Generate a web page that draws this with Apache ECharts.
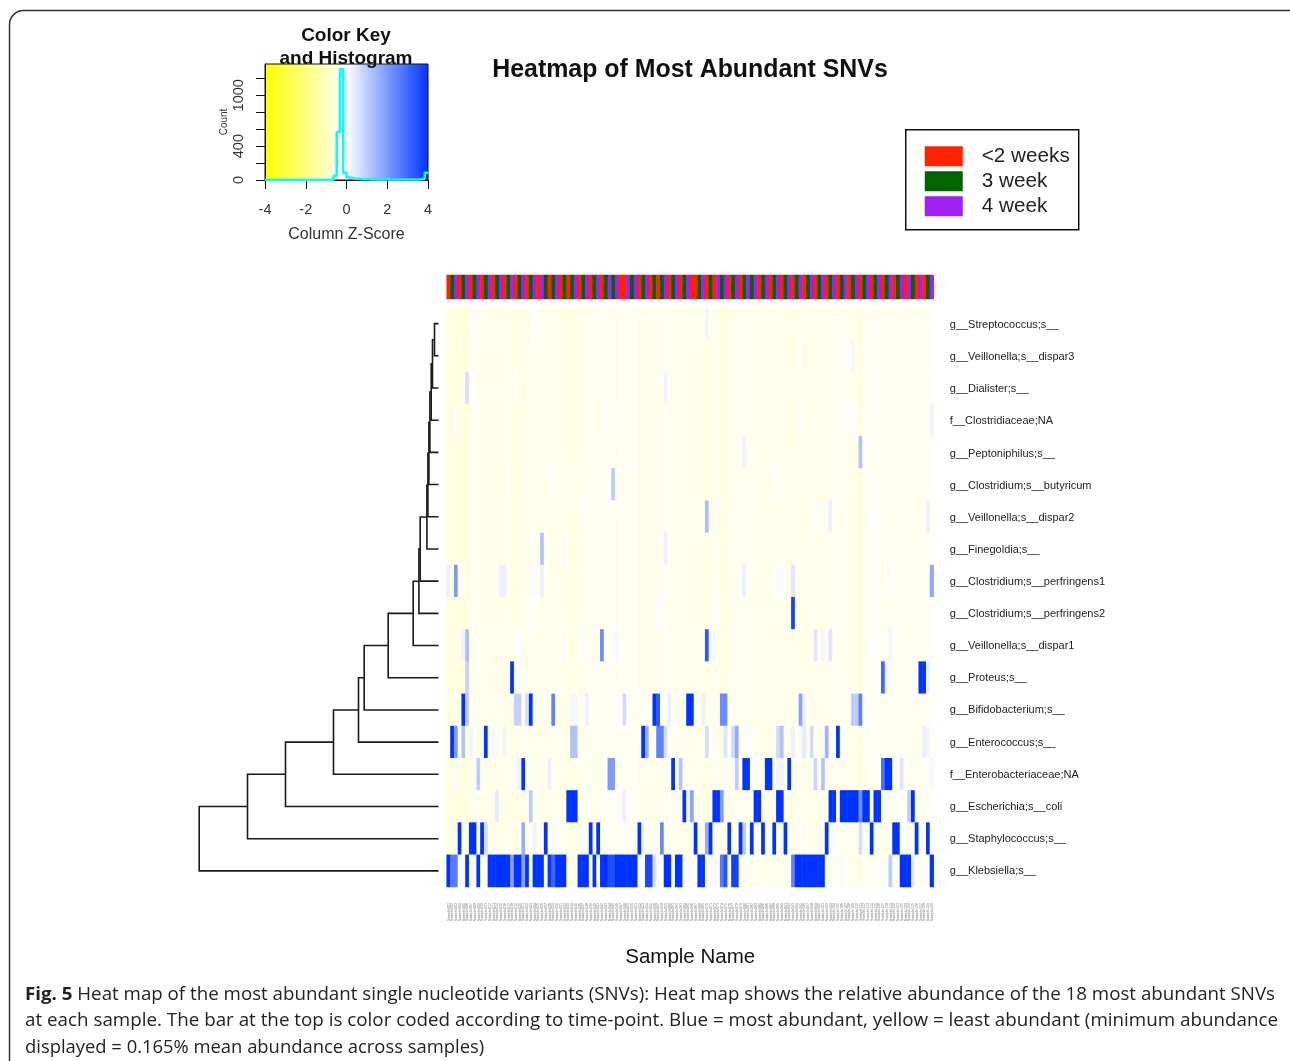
<!DOCTYPE html>
<html><head><meta charset="utf-8">
<style>html,body{margin:0;padding:0;background:#fff}#c{width:1290px;height:1061px}</style>
<script src="https://cdn.jsdelivr.net/npm/echarts@6/dist/echarts.min.js"></script>
</head><body><div id="c"></div>
<script>
const rowNames = ['g__Streptococcus;s__','g__Veillonella;s__dispar3','g__Dialister;s__','f__Clostridiaceae;NA','g__Peptoniphilus;s__','g__Clostridium;s__butyricum','g__Veillonella;s__dispar2','g__Finegoldia;s__','g__Clostridium;s__perfringens1','g__Clostridium;s__perfringens2','g__Veillonella;s__dispar1','g__Proteus;s__','g__Bifidobacterium;s__','g__Enterococcus;s__','f__Enterobacteriaceae;NA','g__Escherichia;s__coli','g__Staphylococcus;s__','g__Klebsiella;s__'];
// column background z-scores (most samples sit slightly below zero)
const columnBase = [-.45,-.5,-.4,-.55,-.5,-.5,-.25,-.2,-.25,-.3,
 -.3,-.25,-.35,-.3,-.4,-.35,-.3,-.4,-.4,-.35,
 -.35,-.3,-.25,-.2,-.3,-.35,-.3,-.3,-.25,-.3,
 -.3,-.35,-.4,-.4,-.35,-.3,-.3,-.25,-.25,-.25,
 -.3,-.25,-.2,-.2,-.25,-.25,-.2,-.2,-.2,-.2,
 -.2,-.25,-.25,-.2,-.25,-.3,-.3,-.25,-.2,-.25,
 -.25,-.3,-.3,-.3,-.3,-.25,-.25,-.3,-.3,-.45,
 -.25,-.25,-.25,-.45,-.45,-.3,-.3,-.25,-.25,-.25,
 -.25,-.25,-.25,-.3,-.3,-.3,-.3,-.25,-.3,-.35,
 -.3,-.3,-.45,-.3,-.3,-.35,-.3,-.3,-.3,-.35,
 -.35,-.35,-.25,-.25,-.25,-.25,-.25,-.25,-.3,-.3,
 -.5,-.2,-.15,-.15,-.2,-.2,-.25,-.2,-.25,-.2,
 -.2,-.25,-.2,-.25,-.25,-.3,-.25,-.2,-.2,-.2];
// [first column, last column, z-score]
const row00 = [[7,7,.05],[24,24,.05],[69,69,.15]];
const row01 = [[94,94,.02],[106,106,.05],[108,108,.15]];
const row02 = [[5,5,.6],[18,18,.02],[58,58,.2]];
const row03 = [[2,2,.03],[42,42,.03],[45,45,.02],[94,94,.05],[106,106,.05],[108,108,.05],[129,129,.2]];
const row04 = [[79,79,.2],[110,110,1.2]];
const row05 = [[16,16,.02],[28,28,.03],[44,44,1],[88,88,.02]];
const row06 = [[36,36,.03],[69,69,1.3],[98,98,.05],[100,100,.05],[102,102,.3],[114,114,.05],[128,128,.3]];
const row07 = [[25,25,1.2],[31,31,.1],[58,58,.3]];
const row08 = [[0,0,.3],[2,2,2],[3,4,.02],[14,15,.3],[22,23,.05],[25,25,.3],[79,79,.3],[88,89,.08],[92,92,.5],[118,118,.05],[129,129,1.7]];
const row09 = [[22,22,.02],[56,56,.05],[72,72,.05],[92,92,3.7]];
const row10 = [[4,4,.2],[5,5,1.3],[18,19,.05],[31,31,.1],[36,36,.05],[41,41,2.3],[45,45,.1],[69,69,3.3],[70,71,.1],[98,98,.5],[100,100,.15],[102,102,.5],[114,114,.05],[118,118,.15]];
const row11 = [[5,5,.9],[17,17,4],[18,19,.05],[116,116,3],[117,117,.2],[126,127,4],[128,128,.3]];
const row12 = [[4,4,4],[5,5,1],[18,19,.9],[21,21,.6],[22,22,4],[28,28,2.5],[33,34,.15],[37,37,.3],[45,45,.05],[47,47,.7],[55,55,4],[56,56,3.3],[59,59,.3],[64,65,4],[68,68,.3],[73,74,2.3],[94,94,1.8],[95,95,.3],[108,109,1],[110,110,2.5]];
const row13 = [[1,1,4],[2,2,2],[4,4,1.2],[6,6,.2],[10,10,4],[11,11,.05],[12,13,.1],[15,15,.2],[33,34,1.2],[52,52,4],[53,53,1.6],[56,57,2.5],[58,58,.6],[69,69,.7],[71,71,.05],[74,74,.5],[76,76,.7],[77,77,1.7],[80,80,.05],[88,88,.7],[89,89,1.2],[92,92,.3],[94,94,.1],[95,95,.4],[97,97,.7],[101,101,1.5],[104,104,4],[105,105,.1],[112,112,.05],[127,127,.3],[128,128,.15]];
const row14 = [[2,2,.05],[8,8,1],[18,18,.1],[19,19,.25],[20,20,4],[27,27,.3],[43,44,2],[60,60,4],[62,62,1.2],[74,74,.1],[77,77,1],[79,80,4],[85,86,4],[88,89,.2],[91,91,4],[98,98,.8],[100,100,1.2],[116,116,2.8],[117,118,4],[121,121,.5],[129,129,.1]];
const row15 = [[13,13,.4],[22,22,1],[32,34,4],[45,45,.05],[47,47,.3],[63,63,4],[64,64,.2],[65,65,1.8],[71,72,4],[73,73,2],[82,83,4],[88,89,4],[102,103,4],[105,109,4],[110,110,2.2],[111,112,4],[114,115,4],[123,123,1],[124,124,4]];
const row16 = [[3,3,4],[6,7,4],[9,9,4],[10,10,.7],[20,20,1.6],[23,23,.25],[26,26,4],[29,29,.05],[38,38,4],[40,40,4],[51,51,4],[52,52,.2],[57,57,2.4],[66,66,4],[69,69,1.6],[70,70,4],[75,75,4],[78,78,4],[79,79,1],[81,81,4],[84,84,4],[87,87,4],[90,90,4],[95,95,.1],[101,101,4],[103,103,.1],[110,110,.6],[113,113,4],[119,120,4],[125,125,4],[128,128,4]];
const row17 = [[0,0,4],[1,2,2.6],[3,4,.05],[5,5,4],[6,7,.05],[8,8,4],[9,10,.03],[11,16,4],[17,17,1.9],[18,19,4],[20,20,1.9],[21,21,4],[22,22,.05],[23,25,4],[26,26,.05],[27,27,3.9],[28,28,3],[29,31,4],[35,37,4],[38,38,.05],[39,39,4],[40,40,.05],[41,42,4],[43,44,3.5],[45,50,4],[51,52,.05],[53,54,3.6],[55,55,.6],[56,57,.05],[58,59,4],[60,60,.05],[61,62,4],[63,66,.05],[67,68,4],[69,72,.05],[73,73,2.6],[74,74,3.4],[75,75,.05],[76,77,3.7],[92,92,2.5],[93,100,4],[105,105,.1],[118,118,1],[121,123,4],[124,124,.4],[129,129,4]];
const rows = [row00,row01,row02,row03,row04,row05,row06,row07,row08,row09,row10,row11,row12,row13,row14,row15,row16,row17];
// time-point bar: R=<2 weeks, G=3 week, P=4 week
const timeBar = 'RGPRGPRGPRGPRGPRGPRGPRGPRPGRGPRGR'+'GPRGPRGPRGPGPRRPGPRGPRGRGPRGPRGPR'+'RGPRGRPGPRGPRGPGPRGPRGPRGPRGPRGP'+'RGPRGPRGPRGPRGPRGPRGPRGPRPGRPRGP'.slice(0,31)+'P';
const timeLabels = ['<2 weeks','3 week','4 week'];
const timeColors = ['#ff2200','#006400','#a020f0'];
// dendrogram: distance at which each further row joins the cluster of the rows above
const dendroHeights = [4,6,7.3,8.6,9.6,10.6,11.6,18.3,19.6,25.3,50.3,74.3,80,105,153,191,239.3];
// colour-key histogram
const histEdges = [-4,-3.84,-3.68,-3.52,-3.36,-3.2,-3.04,-2.88,-2.72,-2.56,-2.4,-2.24,-2.08,-1.92,-1.76,-1.6,-1.44,-1.28,-1.12,-.96,-.8,-.64,-.48,-.32,-.16,0,.16,.32,.48,.64,.8,.96,1.12,1.28,1.44,1.6,1.76,1.92,2.08,2.24,2.4,2.56,2.72,2.88,3.04,3.2,3.36,3.52,3.68,3.84,4];
const histCounts = [0,0,0,0,0,0,0,0,0,0,0,0,0,0,0,0,0,0,0,2,4,50,563,1306,85,30,22,15,12,10,9,8,7,7,6,6,6,6,5,5,5,5,5,6,6,6,6,8,15,85,85];
const histTicks = [0,200,400,600,800,1000,1200];
const histLabels = [0,400,1000];
const keyTicks = [-4,-2,0,2,4];
const captionLines = ['Heat map of the most abundant single nucleotide variants (SNVs): Heat map shows the relative abundance of the 18 most abundant SNVs','at each sample. The bar at the top is color coded according to time-point. Blue = most abundant, yellow = least abundant (minimum abundance','displayed = 0.165% mean abundance across samples)'];

const sampleNames = columnBase.map((_, i) => 'Sample' + String(i + 1).padStart(3, '0'));
const heatData = [];
rows.forEach((spans, r) => {
  const vals = columnBase.slice();
  spans.forEach(([a, b, z]) => { for (let c = a; c <= b; c++) vals[c] = z; });
  vals.forEach((z, c) => heatData.push([c, r, z]));
});
const barData = timeBar.split('').map((ch, c) => [c, 0, 'RGP'.indexOf(ch)]);
const dendroData = [];
let curH = 0, curY = 0;
dendroHeights.forEach((h, i) => {
  const leafY = i + 1;
  dendroData.push([curH, curY, 0, leafY, h]);
  curY = (curY + leafY) / 2; curH = h;
});
const fam = '"Liberation Sans", Arial, sans-serif';
const capFam = '"Open Sans", "Noto Sans", sans-serif';
const capFont = '18.4px ' + capFam;
const measure = document.createElement('canvas').getContext('2d');
function capScale(plain, boldPart, target) {
  measure.font = capFont;
  let w = measure.measureText(plain).width;
  if (boldPart) { measure.font = 'bold ' + capFont; w += measure.measureText(boldPart).width; }
  return target / w;
}
const chart = echarts.init(document.getElementById('c'), null, {renderer:'canvas', width:1290, height:1061});
chart.setOption({
  animation:false, backgroundColor:'#fff', textStyle:{fontFamily:fam},
  title:[
    {text:'Heatmap of Most Abundant SNVs', left:685, top:53, textAlign:'center', textStyle:{fontSize:24.9,fontWeight:'bold',color:'#111',fontFamily:fam}},
    {text:'Color Key\nand Histogram', left:341, top:19, textAlign:'center', textStyle:{fontSize:19,fontWeight:'bold',color:'#111',lineHeight:23,fontFamily:fam}, z:10}
  ],
  grid:[
    {left:446.7, top:307.5, width:487, height:579.5},
    {left:446.7, top:275, width:487, height:24},
    {left:199, top:307.5, width:239.5, height:579.5},
    {left:265, top:64, width:163, height:116, show:true, borderColor:'#111', borderWidth:1,
      backgroundColor:new echarts.graphic.LinearGradient(0,0,1,0,[{offset:0,color:'#ffff00'},{offset:.5,color:'#ffffff'},{offset:1,color:'#0033ff'}])},
    {left:446.7, top:309, width:487, height:578}
  ],
  xAxis:[
    {gridIndex:0,type:'category',data:sampleNames,axisLine:{show:false},axisTick:{show:false},splitLine:{show:false},
      axisLabel:{interval:0,rotate:90,fontSize:3.6,color:'#777',margin:16,hideOverlap:false},
      name:'Sample Name',nameLocation:'middle',nameGap:60,nameTextStyle:{fontSize:20.5,color:'#111',fontFamily:fam}},
    {gridIndex:1,type:'category',data:sampleNames,show:false},
    {gridIndex:2,type:'value',min:0,max:239.5,inverse:true,show:false,splitLine:{show:false}},
    {gridIndex:3,type:'value',min:-4,max:4,interval:2,splitLine:{show:false},
      axisLine:{show:true,onZero:false,lineStyle:{color:'#111'}},axisTick:{show:true,length:9,lineStyle:{color:'#111'}},
      axisLabel:{fontSize:14.5,color:'#333',margin:22,showMinLabel:true,showMaxLabel:true,customValues:keyTicks},
      name:'Column Z-Score',nameLocation:'middle',nameGap:47,nameTextStyle:{fontSize:16,color:'#333',fontFamily:fam}},
    {gridIndex:4,type:'category',data:sampleNames,show:false}
  ],
  yAxis:[
    {gridIndex:0,type:'category',data:rowNames,inverse:true,show:false},
    {gridIndex:1,type:'category',data:['time'],show:false},
    {gridIndex:2,type:'value',min:-.5,max:17.5,inverse:true,show:false,splitLine:{show:false}},
    {gridIndex:3,type:'value',min:0,max:1369,splitLine:{show:false},
      axisLine:{show:true,onZero:false,lineStyle:{color:'#111'}},
      axisTick:{show:true,length:9,customValues:histTicks,lineStyle:{color:'#111'}},
      axisLabel:{rotate:90,fontSize:14.5,color:'#333',margin:26,customValues:histLabels,formatter:v=>String(v),verticalAlign:'middle',align:'center'},
      name:'Count',nameLocation:'middle',nameGap:36,nameRotate:90,nameTextStyle:{fontSize:10,color:'#333',fontFamily:fam}},
    {gridIndex:4,type:'category',data:rowNames,inverse:true,position:'right',axisLine:{show:false},axisTick:{show:false},splitLine:{show:false},
      axisLabel:{interval:0,fontSize:11,color:'#222',margin:16}}
  ],
  visualMap:[
    {type:'continuous',show:false,seriesIndex:0,dimension:2,min:-4,max:4,inRange:{color:['#ffff00','#ffffff','#0033ff']}},
    {type:'piecewise',seriesIndex:1,dimension:2,orient:'vertical',left:905,top:129,align:'left',inverse:true,
      pieces:[{value:0,label:timeLabels[0],color:timeColors[0]},{value:1,label:timeLabels[1],color:timeColors[1]},{value:2,label:timeLabels[2],color:timeColors[2]}],
      itemWidth:38,itemHeight:20,itemGap:4,itemSymbol:'rect',textGap:19,selectedMode:false,hoverLink:false,
      padding:[16,9,13,19],borderColor:'#111',borderWidth:1.5,backgroundColor:'#fff',
      textStyle:{fontSize:20.7,color:'#222',fontFamily:fam}}
  ],
  series:[
    {type:'heatmap',xAxisIndex:0,yAxisIndex:0,data:heatData,progressive:0,silent:true,itemStyle:{borderWidth:0}},
    {type:'heatmap',xAxisIndex:1,yAxisIndex:1,data:barData,progressive:0,silent:true,itemStyle:{borderWidth:0}},
    {type:'custom',xAxisIndex:2,yAxisIndex:2,data:dendroData,silent:true,clip:false,
      encode:{x:[0,2,4],y:[1,3]},
      renderItem:(p,api)=>{
        const a=api.coord([api.value(0),api.value(1)]),b=api.coord([api.value(4),api.value(1)]),
              c=api.coord([api.value(4),api.value(3)]),d=api.coord([api.value(2),api.value(3)]);
        return {type:'polyline',shape:{points:[a,b,c,d]},style:{stroke:'#1a1a1a',lineWidth:1.6,fill:'none'}};
      }},
    {type:'line',xAxisIndex:3,yAxisIndex:3,data:histEdges.map((x,i)=>[x,histCounts[i]]),step:'end',symbol:'none',silent:true,
      lineStyle:{color:'#00ffff',width:2.5},clip:false}
  ],
  graphic:[
    {type:'rect',silent:true,z:-1,shape:{x:9.5,y:10.5,width:1500,height:1300,r:14},style:{stroke:'#333',lineWidth:1.5,fill:'none'}},
    {type:'text',silent:true,x:25,y:986,scaleX:capScale(' '+captionLines[0],'Fig. 5',1250),style:{text:'{b|Fig. 5} '+captionLines[0],font:capFont,fill:'#222',
      rich:{b:{fontWeight:'bold',fontSize:18.4,fontFamily:capFam,fill:'#222'}}}},
    {type:'text',silent:true,x:25,y:1012,scaleX:capScale(captionLines[1],'',1253),style:{text:captionLines[1],font:capFont,fill:'#222'}},
    {type:'text',silent:true,x:25,y:1039,style:{text:captionLines[2],font:capFont,fill:'#222'}}
  ]
});
</script></body></html>
